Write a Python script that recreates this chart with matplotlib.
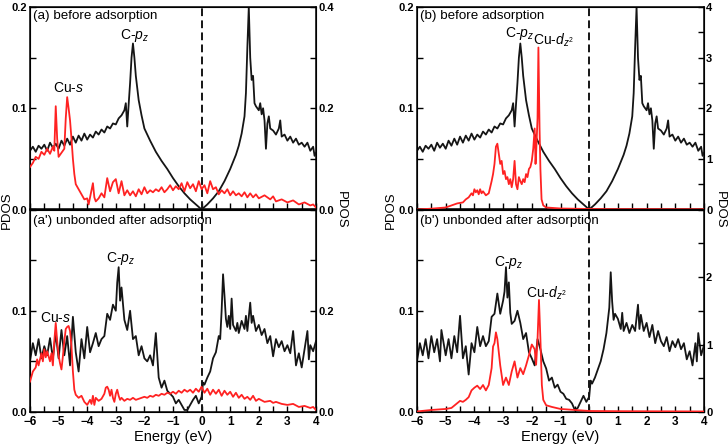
import matplotlib
matplotlib.use('Agg')
import matplotlib.pyplot as plt

plt.rcParams['font.family'] = ['Liberation Sans', 'DejaVu Sans']
plt.rcParams['mathtext.fontset'] = 'custom'
plt.rcParams['mathtext.rm'] = 'Liberation Sans'
plt.rcParams['mathtext.it'] = 'Liberation Sans:italic'

# ---------------- data (left axis units for black, right axis units for red) ----------------
# C-pz before adsorption (same for a and b)
cpz_before_x = [-6.0, -5.9, -5.8, -5.7, -5.6, -5.5, -5.4, -5.3, -5.2, -5.1, -5.0, -4.9, -4.8, -4.7, -4.6,
                -4.5, -4.4, -4.3, -4.2, -4.1, -4.0, -3.9, -3.8, -3.7, -3.6, -3.5, -3.4, -3.3, -3.2, -3.1,
                -3.0, -2.9, -2.8, -2.7, -2.65, -2.6, -2.55, -2.5, -2.45, -2.4, -2.35, -2.3, -2.2, -2.1,
                -2.0, -1.8, -1.6, -1.4, -1.2, -1.0, -0.8, -0.6, -0.4, -0.2, 0.0, 0.2, 0.4, 0.6, 0.8, 1.0,
                1.2, 1.3, 1.4, 1.5, 1.55, 1.6, 1.65, 1.7, 1.75, 1.8, 1.85, 1.9, 2.0, 2.05, 2.1, 2.15, 2.2,
                2.25, 2.3, 2.35, 2.4, 2.5, 2.6, 2.7, 2.75, 2.8, 2.9, 3.0, 3.1, 3.2, 3.3, 3.4, 3.5, 3.6,
                3.7, 3.8, 3.9, 3.95, 4.0]
cpz_before_y = [0.058, 0.062, 0.057, 0.063, 0.060, 0.064, 0.058, 0.066, 0.061, 0.065, 0.060, 0.068, 0.063,
                0.070, 0.064, 0.072, 0.066, 0.073, 0.068, 0.075, 0.069, 0.074, 0.071, 0.077, 0.074, 0.079,
                0.076, 0.082, 0.080, 0.085, 0.084, 0.090, 0.093, 0.098, 0.105, 0.082, 0.104, 0.125, 0.150,
                0.164, 0.150, 0.132, 0.108, 0.093, 0.080, 0.068, 0.057, 0.048, 0.040, 0.031, 0.023, 0.016,
                0.010, 0.005, 0.0, 0.005, 0.011, 0.018, 0.028, 0.040, 0.054, 0.063, 0.075, 0.092, 0.115,
                0.160, 0.200, 0.150, 0.128, 0.132, 0.105, 0.102, 0.098, 0.105, 0.094, 0.100, 0.088, 0.060,
                0.085, 0.092, 0.080, 0.078, 0.074, 0.080, 0.088, 0.072, 0.074, 0.068, 0.072, 0.066, 0.070,
                0.064, 0.066, 0.062, 0.066, 0.058, 0.062, 0.053, 0.056]

# Cu-s before adsorption (right axis 0-0.4)
cus_before_x = [-6.0, -5.9, -5.8, -5.7, -5.6, -5.5, -5.4, -5.3, -5.2, -5.15, -5.1, -5.05, -5.0, -4.9, -4.8,
                -4.75, -4.7, -4.65, -4.6, -4.55, -4.5, -4.45, -4.4, -4.3, -4.2, -4.1, -4.0, -3.95, -3.9,
                -3.8, -3.75, -3.7, -3.6, -3.5, -3.4, -3.3, -3.2, -3.1, -3.0, -2.9, -2.8, -2.7, -2.6, -2.5,
                -2.4, -2.3, -2.2, -2.1, -2.0, -1.9, -1.8, -1.7, -1.6, -1.5, -1.4, -1.3, -1.2, -1.1, -1.0,
                -0.9, -0.8, -0.7, -0.6, -0.5, -0.4, -0.3, -0.2, -0.1, 0.0, 0.1, 0.2, 0.3, 0.4, 0.5, 0.6,
                0.7, 0.8, 0.9, 1.0, 1.1, 1.2, 1.3, 1.4, 1.5, 1.6, 1.7, 1.8, 1.9, 2.0, 2.2, 2.4, 2.5, 2.6,
                2.8, 3.0, 3.2, 3.4, 3.6, 3.8, 3.9, 4.0]
cus_before_y = [0.084, 0.092, 0.104, 0.100, 0.114, 0.108, 0.120, 0.110, 0.124, 0.116, 0.204, 0.140, 0.104,
                0.112, 0.120, 0.180, 0.222, 0.200, 0.176, 0.140, 0.100, 0.070, 0.050, 0.040, 0.030, 0.020,
                0.022, 0.010, 0.024, 0.052, 0.024, 0.016, 0.022, 0.032, 0.024, 0.062, 0.036, 0.054, 0.060,
                0.032, 0.056, 0.028, 0.038, 0.028, 0.036, 0.026, 0.040, 0.030, 0.044, 0.032, 0.038, 0.034,
                0.040, 0.036, 0.044, 0.034, 0.040, 0.048, 0.038, 0.046, 0.040, 0.052, 0.036, 0.054, 0.042,
                0.050, 0.036, 0.056, 0.040, 0.048, 0.032, 0.056, 0.040, 0.044, 0.030, 0.038, 0.032, 0.040,
                0.028, 0.036, 0.028, 0.032, 0.026, 0.034, 0.024, 0.032, 0.024, 0.030, 0.022, 0.028, 0.020,
                0.026, 0.016, 0.020, 0.014, 0.018, 0.010, 0.014, 0.008, 0.010, 0.004]

# C-pz unbonded after adsorption, panel (a')
cpz_a_after_x = [-6.0, -5.9, -5.8, -5.7, -5.6, -5.5, -5.4, -5.3, -5.2, -5.1, -5.0, -4.9, -4.8, -4.7, -4.6,
                 -4.5, -4.4, -4.3, -4.2, -4.1, -4.0, -3.9, -3.8, -3.7, -3.6, -3.5, -3.4, -3.3, -3.2, -3.1,
                 -3.0, -2.95, -2.9, -2.85, -2.8, -2.7, -2.6, -2.5, -2.4, -2.3, -2.2, -2.1, -2.0, -1.9, -1.8,
                 -1.7, -1.6, -1.5, -1.4, -1.3, -1.2, -1.1, -1.0, -0.9, -0.8, -0.7, -0.6, -0.5, -0.4, -0.3,
                 -0.2, -0.1, 0.0, 0.05, 0.1, 0.2, 0.3, 0.4, 0.5, 0.6, 0.65, 0.7, 0.75, 0.8, 0.85, 0.9, 0.95,
                 1.0, 1.05, 1.1, 1.2, 1.25, 1.3, 1.4, 1.5, 1.55, 1.6, 1.7, 1.75, 1.8, 1.9, 2.0, 2.1, 2.2,
                 2.3, 2.4, 2.5, 2.6, 2.7, 2.8, 2.9, 3.0, 3.1, 3.2, 3.3, 3.4, 3.5, 3.6, 3.7, 3.75, 3.8, 3.9,
                 4.0]
cpz_a_after_y = [0.050, 0.068, 0.056, 0.072, 0.053, 0.065, 0.056, 0.073, 0.053, 0.078, 0.053, 0.081, 0.056,
                 0.075, 0.046, 0.094, 0.059, 0.040, 0.072, 0.053, 0.084, 0.059, 0.068, 0.078, 0.065, 0.072,
                 0.075, 0.097, 0.091, 0.106, 0.100, 0.128, 0.143, 0.110, 0.123, 0.091, 0.081, 0.100, 0.072,
                 0.075, 0.056, 0.065, 0.053, 0.050, 0.056, 0.046, 0.078, 0.034, 0.024, 0.031, 0.021, 0.018,
                 0.015, 0.0085, 0.012, 0.007, 0.002, 0.002, 0.007, 0.012, 0.016, 0.0085, 0.015, 0.029,
                 0.027, 0.034, 0.040, 0.053, 0.059, 0.075, 0.072, 0.100, 0.136, 0.115, 0.092, 0.084, 0.095,
                 0.082, 0.112, 0.086, 0.080, 0.088, 0.078, 0.090, 0.082, 0.095, 0.080, 0.108, 0.088, 0.095,
                 0.080, 0.086, 0.076, 0.082, 0.068, 0.075, 0.055, 0.072, 0.064, 0.070, 0.060, 0.066, 0.058,
                 0.080, 0.046, 0.058, 0.044, 0.062, 0.080, 0.052, 0.066, 0.060, 0.070]

# Cu-s after adsorption, panel (a') (right axis 0-0.4)
cus_after_x = [-6.0, -5.9, -5.8, -5.75, -5.7, -5.6, -5.55, -5.5, -5.45, -5.4, -5.3, -5.25, -5.2, -5.15, -5.1,
               -5.05, -5.0, -4.95, -4.9, -4.85, -4.8, -4.75, -4.7, -4.65, -4.6, -4.55, -4.5, -4.45, -4.4,
               -4.3, -4.2, -4.1, -4.0, -3.9, -3.85, -3.8, -3.75, -3.7, -3.6, -3.5, -3.4, -3.35, -3.3, -3.25,
               -3.2, -3.15, -3.1, -3.05, -3.0, -2.95, -2.9, -2.85, -2.8, -2.7, -2.6, -2.5, -2.4, -2.3, -2.2,
               -2.1, -2.0, -1.9, -1.8, -1.7, -1.6, -1.5, -1.4, -1.3, -1.2, -1.1, -1.0, -0.9, -0.8, -0.7,
               -0.6, -0.5, -0.4, -0.3, -0.2, -0.1, 0.0, 0.1, 0.2, 0.3, 0.4, 0.5, 0.6, 0.7, 0.8, 0.9, 1.0,
               1.1, 1.2, 1.3, 1.4, 1.5, 1.6, 1.7, 1.8, 1.9, 2.0, 2.2, 2.4, 2.5, 2.6, 2.8, 3.0, 3.2, 3.4,
               3.6, 3.8, 3.9, 4.0]
cus_after_y = [0.060, 0.080, 0.088, 0.104, 0.092, 0.116, 0.100, 0.124, 0.108, 0.120, 0.100, 0.116, 0.092,
               0.140, 0.176, 0.140, 0.112, 0.096, 0.084, 0.110, 0.140, 0.164, 0.168, 0.170, 0.160, 0.130,
               0.080, 0.044, 0.034, 0.028, 0.032, 0.020, 0.014, 0.024, 0.016, 0.032, 0.014, 0.028, 0.022,
               0.026, 0.036, 0.048, 0.050, 0.044, 0.032, 0.044, 0.028, 0.020, 0.036, 0.044, 0.032, 0.024,
               0.028, 0.022, 0.026, 0.024, 0.028, 0.024, 0.026, 0.028, 0.030, 0.028, 0.032, 0.030, 0.034,
               0.032, 0.036, 0.034, 0.038, 0.036, 0.040, 0.036, 0.042, 0.038, 0.044, 0.040, 0.044, 0.038,
               0.046, 0.040, 0.050, 0.038, 0.046, 0.034, 0.044, 0.036, 0.044, 0.032, 0.042, 0.034, 0.040,
               0.030, 0.038, 0.028, 0.034, 0.026, 0.030, 0.024, 0.032, 0.022, 0.026, 0.020, 0.022, 0.018,
               0.020, 0.016, 0.014, 0.016, 0.010, 0.012, 0.008, 0.010, 0.004]

# Cu-dz2 before adsorption, panel (b) (right axis 0-4)
cud_before_x = [-6.0, -5.5, -5.0, -4.8, -4.6, -4.4, -4.3, -4.2, -4.1, -4.05, -4.0, -3.95, -3.9, -3.85, -3.8,
                -3.75, -3.7, -3.6, -3.5, -3.45, -3.4, -3.35, -3.3, -3.25, -3.2, -3.15, -3.1, -3.05, -3.0,
                -2.95, -2.9, -2.85, -2.8, -2.75, -2.7, -2.65, -2.6, -2.55, -2.5, -2.45, -2.4, -2.35, -2.3,
                -2.25, -2.2, -2.15, -2.1, -2.05, -2.0, -1.95, -1.9, -1.87, -1.85, -1.8, -1.77, -1.73, -1.7,
                -1.66, -1.6, -1.5, -1.0, 0.0, 1.0, 2.0, 4.0]
cud_before_y = [0.0, 0.016, 0.04, 0.08, 0.12, 0.14, 0.20, 0.24, 0.32, 0.28, 0.40, 0.34, 0.38, 0.30, 0.40,
                0.32, 0.36, 0.28, 0.32, 0.44, 0.56, 0.70, 0.90, 1.24, 1.30, 1.10, 0.90, 0.96, 0.70, 0.76,
                0.60, 0.64, 0.50, 0.60, 0.44, 0.60, 0.96, 0.50, 0.40, 0.64, 0.56, 0.50, 0.60, 0.54, 0.70,
                0.64, 0.80, 0.84, 0.96, 1.20, 1.60, 0.90, 1.10, 1.80, 3.20, 1.60, 0.80, 0.20, 0.08, 0.04,
                0.02, 0.01, 0.006, 0.006, 0.004]

# C-pz unbonded after adsorption, panel (b')
cpz_b_after_x = [-6.0, -5.9, -5.8, -5.7, -5.6, -5.5, -5.4, -5.3, -5.2, -5.15, -5.0, -4.9, -4.8, -4.7, -4.6,
                 -4.5, -4.4, -4.3, -4.2, -4.1, -4.0, -3.9, -3.8, -3.7, -3.6, -3.5, -3.4, -3.3, -3.2, -3.1,
                 -3.0, -2.95, -2.9, -2.85, -2.8, -2.75, -2.7, -2.6, -2.5, -2.4, -2.3, -2.2, -2.1, -2.0,
                 -1.9, -1.8, -1.7, -1.6, -1.5, -1.4, -1.3, -1.2, -1.1, -1.0, -0.9, -0.8, -0.7, -0.6, -0.5,
                 -0.4, -0.3, -0.2, -0.1, 0.0, 0.05, 0.1, 0.2, 0.3, 0.4, 0.5, 0.6, 0.7, 0.75, 0.8, 0.85, 0.9,
                 1.0, 1.1, 1.15, 1.2, 1.3, 1.4, 1.5, 1.6, 1.7, 1.75, 1.8, 1.9, 2.0, 2.1, 2.2, 2.3, 2.4, 2.5,
                 2.6, 2.7, 2.8, 2.9, 3.0, 3.1, 3.2, 3.3, 3.4, 3.5, 3.6, 3.7, 3.75, 3.8, 3.9, 4.0]
cpz_b_after_y = [0.050, 0.068, 0.056, 0.072, 0.053, 0.075, 0.059, 0.072, 0.050, 0.081, 0.056, 0.072, 0.053,
                 0.075, 0.059, 0.095, 0.053, 0.065, 0.037, 0.068, 0.059, 0.084, 0.065, 0.075, 0.065, 0.070,
                 0.094, 0.097, 0.117, 0.097, 0.110, 0.119, 0.143, 0.113, 0.128, 0.098, 0.087, 0.090, 0.100,
                 0.088, 0.072, 0.078, 0.059, 0.053, 0.046, 0.072, 0.062, 0.050, 0.043, 0.031, 0.034, 0.024,
                 0.027, 0.020, 0.018, 0.013, 0.012, 0.0085, 0.002, 0.004, 0.010, 0.016, 0.010, 0.015,
                 0.031, 0.028, 0.034, 0.042, 0.050, 0.062, 0.078, 0.103, 0.138, 0.109, 0.091, 0.097, 0.092,
                 0.082, 0.098, 0.080, 0.088, 0.078, 0.086, 0.080, 0.106, 0.082, 0.096, 0.080, 0.088, 0.074,
                 0.086, 0.068, 0.080, 0.070, 0.065, 0.074, 0.060, 0.070, 0.064, 0.072, 0.062, 0.068, 0.052,
                 0.060, 0.046, 0.068, 0.050, 0.078, 0.056, 0.066]

# Cu-dz2 after adsorption, panel (b') (right axis 0-3)
cud_after_x = [-6.0, -5.5, -5.0, -4.8, -4.6, -4.5, -4.4, -4.3, -4.2, -4.1, -4.0, -3.9, -3.8, -3.7, -3.6, -3.5,
               -3.4, -3.35, -3.3, -3.25, -3.2, -3.1, -3.0, -2.9, -2.8, -2.7, -2.6, -2.5, -2.4, -2.3, -2.2,
               -2.1, -2.0, -1.9, -1.85, -1.8, -1.75, -1.7, -1.65, -1.6, -1.5, -1.3, -1.0, -0.5, 0.0, 1.0, 4.0]
cud_after_y = [0.008, 0.03, 0.045, 0.06, 0.13, 0.165, 0.15, 0.18, 0.22, 0.32, 0.36, 0.39, 0.34, 0.40, 0.32,
               0.40, 0.65, 0.97, 1.02, 1.18, 1.08, 0.69, 0.40, 0.51, 0.40, 0.60, 0.75, 0.51, 0.65, 0.56, 0.69,
               0.84, 1.00, 0.93, 0.70, 1.08, 1.66, 1.08, 0.40, 0.18, 0.10, 0.075, 0.045, 0.03, 0.015, 0.012,
               0.008]

BLACK = '#151515'
RED = '#ff2222'

fig = plt.figure(figsize=(7.28, 4.44), dpi=100)
W, H = 728.0, 444.0


def make_panel(px_left, px_right, px_top, px_bot, bx, by, rx, ry, rmax, rticks, rlabels,
               lticks_labels, title, annots, bottom):
    ax = fig.add_axes([px_left / W, 1 - px_bot / H, (px_right - px_left) / W, (px_bot - px_top) / H])
    ax.plot(bx, by, color=BLACK, lw=1.3, zorder=3)
    ax.axvline(0, color=BLACK, lw=1.4, ls=(0, (4, 2.2)), zorder=2)
    ax.set_xlim(-6, 4)
    ax.set_ylim(0, 0.2)
    ax.set_xticks([-6, -5, -4, -3, -2, -1, 0, 1, 2, 3, 4])
    ax.set_xticks([-5.5, -4.5, -3.5, -2.5, -1.5, -0.5, 0.5, 1.5, 2.5, 3.5], minor=True)
    ax.set_yticks([0, 0.05, 0.1, 0.15, 0.2])
    ax.set_yticklabels(lticks_labels)
    ax.tick_params(which='both', direction='in', length=4, width=1, top=False, right=False,
                   labelsize=8, pad=2)
    ax.tick_params(axis='x', labelbottom=bottom, pad=3, labelsize=8.5)
    for lab in ax.get_xticklabels() + ax.get_yticklabels():
        lab.set_fontweight('bold')
    for s in ax.spines.values():
        s.set_linewidth(1.1)
    ax2 = ax.twinx()
    ax2.plot(rx, ry, color=RED, lw=1.3, zorder=3)
    ax2.set_ylim(0, rmax)
    ax2.set_yticks(rticks)
    ax2.set_yticklabels(rlabels)
    ax2.tick_params(which='both', direction='in', length=4, width=1, labelsize=8, pad=1.5)
    for lab in ax2.get_yticklabels():
        lab.set_fontweight('bold')
    ax.text(0.012, title[1], title[0], transform=ax.transAxes, ha='left', va='top', fontsize=9.6,
            zorder=5)
    for (txt, x, y) in annots:
        ax.text(x, y, txt, ha='center', va='center', fontsize=10, zorder=5)
    if bottom:
        ax.set_xlabel('Energy (eV)', fontsize=10.5, labelpad=1)
    return ax


top_l = ['0.0', '', '0.1', '', '0.2']
bot_l = ['0.0', '', '0.1', '', '']

# (a)
make_panel(30, 316, 7, 209.5, cpz_before_x, cpz_before_y, cus_before_x, cus_before_y,
           0.4, [0, 0.1, 0.2, 0.3, 0.4], ['0.0', '', '0.2', '', '0.4'], top_l,
           ('(a) before adsorption', 0.985),
           [('C-$p_z$', -2.33, 0.172), ('Cu-$s$', -4.67, 0.120)], False)
# (a')
make_panel(30, 316, 209.5, 412, cpz_a_after_x, cpz_a_after_y, cus_after_x, cus_after_y,
           0.4, [0, 0.1, 0.2, 0.3, 0.4], ['0.0', '', '0.2', '', ''], bot_l,
           ("(a') unbonded after adsorption", 0.975),
           [('C-$p_z$', -2.83, 0.152), ('Cu-$s$', -5.1, 0.093)], True)
# (b)
make_panel(417, 704, 7, 209.5, cpz_before_x, cpz_before_y, cud_before_x, cud_before_y,
           4, [0, 0.5, 1, 1.5, 2, 2.5, 3, 3.5, 4], ['0', '', '1', '', '2', '', '3', '', '4'], top_l,
           ('(b) before adsorption', 0.985),
           [('C-$p_z$', -2.43, 0.174), ('Cu-$d_{z^2}$', -1.25, 0.167)], False)
# (b')
make_panel(417, 704, 209.5, 412, cpz_b_after_x, cpz_b_after_y, cud_after_x, cud_after_y,
           3, [0, 0.5, 1, 1.5, 2, 2.5, 3], ['0', '', '1', '', '2', '', ''], bot_l,
           ("(b') unbonded after adsorption", 0.975),
           [('C-$p_z$', -2.8, 0.148), ('Cu-$d_{z^2}$', -1.5, 0.117)], True)

for xp, rot in [(7, 90), (341, 270), (391, 90), (720, 270)]:
    fig.text(xp / W, 1 - 210 / H, 'PDOS', rotation=rot, ha='center', va='center', fontsize=9.5)

fig.savefig('out.png', dpi=100)
